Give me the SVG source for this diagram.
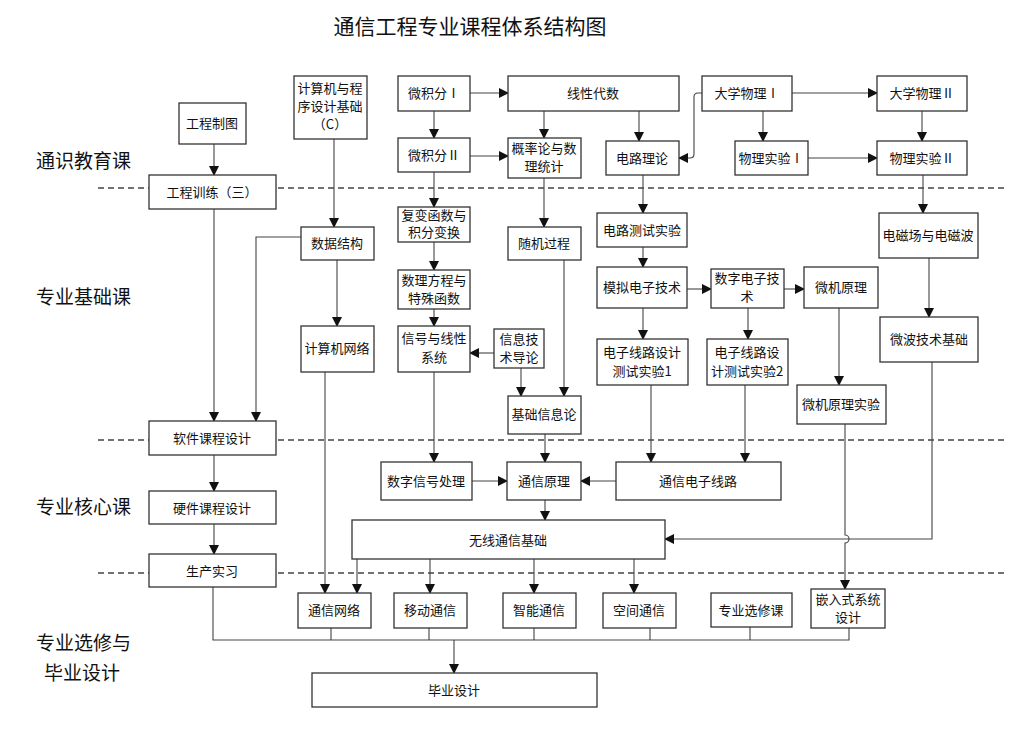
<svg xmlns="http://www.w3.org/2000/svg" width="1016" height="740" viewBox="0 0 1016 740">
<style>
.b{fill:#fff;stroke:#333;stroke-width:1.3}
.t{font-family:"Noto Sans CJK SC",sans-serif;font-size:13px;fill:#111;text-anchor:middle}
.c{fill:none;stroke:#444;stroke-width:1.1;marker-end:url(#a)}
.n{fill:none;stroke:#444;stroke-width:1.1}
.d{stroke:#444;stroke-width:1.3;stroke-dasharray:6 4}
.s{font-family:"Noto Sans CJK SC",sans-serif;font-size:19px;fill:#111}
</style>
<defs><marker id="a" markerWidth="10" markerHeight="10" refX="9" refY="5" orient="auto" markerUnits="userSpaceOnUse"><path d="M0,0 L10,5 L0,10 z" fill="#111"/></marker></defs>
<rect width="1016" height="740" fill="#fff"/>
<text x="470" y="34" font-family="Noto Sans CJK SC,sans-serif" font-size="21" text-anchor="middle" fill="#111">通信工程专业课程体系结构图</text>
<line class="d" x1="98" y1="188" x2="1006" y2="188"/>
<line class="d" x1="98" y1="440" x2="1006" y2="440"/>
<line class="d" x1="98" y1="573" x2="1006" y2="573"/>
<text class="s" x="36" y="168">通识教育课</text>
<text class="s" x="36" y="304">专业基础课</text>
<text class="s" x="36" y="514">专业核心课</text>
<text class="s" x="36" y="650">专业选修与</text>
<text class="s" x="44" y="680">毕业设计</text>
<g id="connectors">
<path class="c" d="M214,144 V175"/>
<path class="c" d="M214,209 V421"/>
<path class="c" d="M214,455 V491"/>
<path class="c" d="M214,524 V554"/>
<path class="n" d="M213,587 V640 H849 V628"/>
<path class="n" d="M331,628 V640 M429,628 V640 M534,628 V640 M650,628 V640 M750,627 V640"/>
<path class="c" d="M454,640 V673"/>
<path class="c" d="M334,139 V227"/>
<path class="c" d="M301,237 H256 V421"/>
<path class="c" d="M337,260 V326"/>
<path class="c" d="M325,372 V593"/>
<path class="c" d="M470,93 H508"/>
<path class="c" d="M434,111 V138"/>
<path class="c" d="M470,156 H508"/>
<path class="c" d="M544,111 V138"/>
<path class="c" d="M639,111 V141"/>
<path class="c" d="M434,172 V207"/>
<path class="c" d="M544,178 V227"/>
<path class="c" d="M434,242 V270"/>
<path class="c" d="M434,309 V326"/>
<path class="c" d="M494,353 H470"/>
<path class="c" d="M521,368 V396"/>
<path class="c" d="M564,260 V396"/>
<path class="c" d="M434,372 V462"/>
<path class="c" d="M545,434 V462"/>
<path class="c" d="M472,481 H507"/>
<path class="c" d="M616,481 H581"/>
<path class="c" d="M545,500 V520"/>
<path class="c" d="M357,559 V593"/>
<path class="c" d="M430,559 V593"/>
<path class="c" d="M534,559 V593"/>
<path class="c" d="M634,559 V593"/>
<path class="c" d="M702,93 H698 Q694,93 694,97 V154 Q694,158 690,158 H679"/>
<path class="c" d="M792,93 H877"/>
<path class="c" d="M763,111 V141"/>
<path class="c" d="M808,158 H877"/>
<path class="c" d="M922,111 V141"/>
<path class="c" d="M923,175 V213"/>
<path class="c" d="M929,258 V317"/>
<path class="c" d="M932,362 V539 H665"/>
<path class="c" d="M643,175 V213"/>
<path class="c" d="M643,247 V267"/>
<path class="c" d="M687,289 H711"/>
<path class="c" d="M784,289 H804"/>
<path class="c" d="M643,308 V339"/>
<path class="c" d="M748,308 V339"/>
<path class="c" d="M839,308 V385"/>
<path class="c" d="M651,385 V462"/>
<path class="c" d="M745,385 V462"/>
<path class="c" d="M845,424 V535 A4,4 0 0 1 845,543 V589"/>
</g>
<g id="n1"><rect class="b" x="179" y="103" width="67" height="41"/><text class="t" x="212" y="128">工程制图</text></g>
<g id="n2"><rect class="b" x="294" y="76" width="73" height="63"/><text class="t" x="330" y="93">计算机与程<tspan x="330" dy="18">序设计基础</tspan><tspan x="330" dy="18">（C）</tspan></text></g>
<g id="n3"><rect class="b" x="398" y="76" width="72" height="35"/><text class="t" x="434" y="98">微积分Ⅰ</text></g>
<g id="n4"><rect class="b" x="508" y="76" width="171" height="35"/><text class="t" x="593" y="98">线性代数</text></g>
<g id="n5"><rect class="b" x="398" y="138" width="72" height="34"/><text class="t" x="434" y="160">微积分Ⅱ</text></g>
<g id="n6"><rect class="b" x="508" y="138" width="73" height="40"/><text class="t" x="544" y="153">概率论与数<tspan x="544" dy="18">理统计</tspan></text></g>
<g id="n7"><rect class="b" x="606" y="141" width="73" height="34"/><text class="t" x="642" y="163">电路理论</text></g>
<g id="n8"><rect class="b" x="702" y="76" width="90" height="35"/><text class="t" x="747" y="98">大学物理Ⅰ</text></g>
<g id="n9"><rect class="b" x="877" y="76" width="90" height="35"/><text class="t" x="922" y="98">大学物理Ⅱ</text></g>
<g id="n10"><rect class="b" x="735" y="141" width="73" height="34"/><text class="t" x="771" y="163">物理实验Ⅰ</text></g>
<g id="n11"><rect class="b" x="877" y="141" width="90" height="34"/><text class="t" x="922" y="163">物理实验Ⅱ</text></g>
<g id="n12"><rect class="b" x="149" y="175" width="127" height="34"/><text class="t" x="212" y="197" font-size="14">工程训练（三）</text></g>
<g id="n13"><rect class="b" x="301" y="227" width="73" height="33"/><text class="t" x="337" y="248">数据结构</text></g>
<g id="n14"><rect class="b" x="398" y="207" width="72" height="35"/><text class="t" x="434" y="220">复变函数与<tspan x="434" dy="17">积分变换</tspan></text></g>
<g id="n15"><rect class="b" x="508" y="227" width="73" height="33"/><text class="t" x="544" y="248">随机过程</text></g>
<g id="n16"><rect class="b" x="597" y="213" width="90" height="34"/><text class="t" x="642" y="235">电路测试实验</text></g>
<g id="n17"><rect class="b" x="879" y="213" width="99" height="45"/><text class="t" x="928" y="240">电磁场与电磁波</text></g>
<g id="n18"><rect class="b" x="398" y="270" width="72" height="39"/><text class="t" x="434" y="285">数理方程与<tspan x="434" dy="18">特殊函数</tspan></text></g>
<g id="n19"><rect class="b" x="597" y="267" width="90" height="41"/><text class="t" x="642" y="292">模拟电子技术</text></g>
<g id="n20"><rect class="b" x="711" y="269" width="73" height="39"/><text class="t" x="747" y="283">数字电子技<tspan x="747" dy="18">术</tspan></text></g>
<g id="n21"><rect class="b" x="804" y="267" width="74" height="41"/><text class="t" x="841" y="292">微机原理</text></g>
<g id="n22"><rect class="b" x="880" y="317" width="98" height="45"/><text class="t" x="929" y="344">微波技术基础</text></g>
<g id="n23"><rect class="b" x="301" y="326" width="73" height="46"/><text class="t" x="337" y="353">计算机网络</text></g>
<g id="n24"><rect class="b" x="398" y="326" width="72" height="46"/><text class="t" x="434" y="343">信号与线性<tspan x="434" dy="19">系统</tspan></text></g>
<g id="n25"><rect class="b" x="494" y="329" width="50" height="39"/><text class="t" x="519" y="344">信息技<tspan x="519" dy="18">术导论</tspan></text></g>
<g id="n26"><rect class="b" x="597" y="339" width="91" height="46"/><text class="t" x="642" y="357">电子线路设计<tspan x="642" dy="19">测试实验1</tspan></text></g>
<g id="n27"><rect class="b" x="707" y="339" width="81" height="46"/><text class="t" x="747" y="357">电子线路设<tspan x="747" dy="19">计测试实验2</tspan></text></g>
<g id="n28"><rect class="b" x="797" y="385" width="89" height="39"/><text class="t" x="841" y="409">微机原理实验</text></g>
<g id="n29"><rect class="b" x="508" y="396" width="73" height="38"/><text class="t" x="544" y="419">基础信息论</text></g>
<g id="n30"><rect class="b" x="149" y="421" width="127" height="34"/><text class="t" x="212" y="443" font-size="14">软件课程设计</text></g>
<g id="n31"><rect class="b" x="381" y="462" width="91" height="38"/><text class="t" x="426" y="486">数字信号处理</text></g>
<g id="n32"><rect class="b" x="507" y="462" width="74" height="38"/><text class="t" x="544" y="486" font-size="14">通信原理</text></g>
<g id="n33"><rect class="b" x="616" y="462" width="165" height="38"/><text class="t" x="698" y="486" font-size="14">通信电子线路</text></g>
<g id="n34"><rect class="b" x="149" y="491" width="127" height="33"/><text class="t" x="212" y="513" font-size="14">硬件课程设计</text></g>
<g id="n35"><rect class="b" x="352" y="520" width="313" height="39"/><text class="t" x="508" y="545" font-size="14">无线通信基础</text></g>
<g id="n36"><rect class="b" x="149" y="554" width="127" height="33"/><text class="t" x="212" y="576" font-size="14">生产实习</text></g>
<g id="n37"><rect class="b" x="298" y="593" width="73" height="35"/><text class="t" x="334" y="615" font-size="14">通信网络</text></g>
<g id="n38"><rect class="b" x="394" y="593" width="73" height="35"/><text class="t" x="430" y="615" font-size="14">移动通信</text></g>
<g id="n39"><rect class="b" x="503" y="593" width="73" height="35"/><text class="t" x="539" y="615" font-size="14">智能通信</text></g>
<g id="n40"><rect class="b" x="603" y="593" width="73" height="35"/><text class="t" x="639" y="615" font-size="14">空间通信</text></g>
<g id="n41"><rect class="b" x="711" y="593" width="81" height="34"/><text class="t" x="751" y="615" font-size="14">专业选修课</text></g>
<g id="n42"><rect class="b" x="811" y="589" width="74" height="39"/><text class="t" x="848" y="604">嵌入式系统<tspan x="848" dy="18">设计</tspan></text></g>
<g id="n43"><rect class="b" x="312" y="673" width="285" height="34"/><text class="t" x="454" y="695" font-size="14">毕业设计</text></g>
</svg>
